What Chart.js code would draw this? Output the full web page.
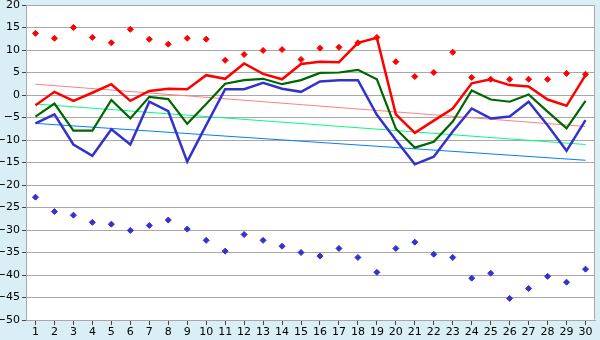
<!DOCTYPE html>
<html>
<head>
<meta charset="utf-8">
<script src="https://cdn.jsdelivr.net/npm/chart.js@4"></script>
<style>
html,body{margin:0;padding:0;background:#d9eef5;}
#wrap{width:600px;height:340px;position:relative;}
</style>
</head>
<body>
<div id="wrap"><canvas id="c" width="600" height="340"></canvas></div>
<script>
const days = ['1','2','3','4','5','6','7','8','9','10','11','12','13','14','15','16','17','18','19','20','21','22','23','24','25','26','27','28','29','30'];
const absMax = [13.7,12.6,15.0,12.8,11.6,14.6,12.4,11.3,12.6,12.4,7.7,9.0,9.9,10.1,7.9,10.4,10.6,11.6,12.8,7.4,4.1,5.0,9.5,3.9,3.5,3.5,3.5,3.5,4.8,4.6];
const avgMax = [-2.3,0.7,-1.3,0.5,2.4,-1.3,0.9,1.4,1.3,4.4,3.6,7.0,4.7,3.5,6.9,7.4,7.3,11.6,12.7,-4.3,-8.4,-5.7,-3.0,2.6,3.5,2.2,1.9,-1.0,-2.4,4.4];
const avgMean = [-4.8,-1.9,-7.9,-7.9,-1.1,-5.2,-0.4,-0.9,-6.4,-2.0,2.5,3.3,3.6,2.4,3.3,4.9,5.0,5.6,3.5,-7.5,-11.7,-10.4,-5.9,1.0,-1.0,-1.5,0.1,-3.7,-7.4,-1.3];
const avgMin = [-6.3,-4.3,-11.0,-13.5,-7.6,-11.0,-1.5,-3.6,-14.8,-6.7,1.3,1.3,2.7,1.4,0.7,3.0,3.3,3.3,-4.4,-10.0,-15.4,-13.7,-8.1,-3.0,-5.2,-4.8,-1.5,-6.7,-12.4,-5.6];
const absMin = [-22.7,-25.9,-26.7,-28.3,-28.7,-30.1,-29.0,-27.8,-29.8,-32.3,-34.7,-31.0,-32.3,-33.6,-35.0,-35.8,-34.1,-36.1,-39.4,-34.1,-32.7,-35.4,-36.1,-40.7,-39.6,-45.2,-43.0,-40.3,-41.6,-38.7];
const trendMax = [2.4,-7.0];
const trendMean = [-2.0,-11.0];
const trendMin = [-6.3,-14.5];
const yTicks = [20,15,10,5,0,-5,-10,-15,-20,-25,-30,-35,-40,-45,-50];

function trend(v){ return [{x:days[0],y:v[0]},{x:days[days.length-1],y:v[1]}]; }

const plotBg = {
  id:'plotBg',
  beforeDraw(chart){
    const {ctx,chartArea:a}=chart;
    ctx.save(); ctx.fillStyle='#ffffff';
    ctx.fillRect(a.left,a.top,a.right-a.left,a.bottom-a.top);
    ctx.restore();
  },
  afterDatasetsDraw(chart){
    const {ctx,chartArea:a}=chart;
    ctx.save(); ctx.strokeStyle='#a8a8a8'; ctx.lineWidth=1;
    ctx.beginPath();
    ctx.moveTo(a.left+0.5,a.top+0.5); ctx.lineTo(a.right-0.5,a.top+0.5); ctx.lineTo(a.right-0.5,a.bottom-0.5);
    ctx.stroke(); ctx.restore();
  }
};

new Chart(document.getElementById('c'),{
  type:'line',
  data:{
    labels:days,
    datasets:[
      {data:trend(trendMax),borderColor:'#ff8080',borderWidth:1,pointRadius:0,order:10},
      {data:trend(trendMean),borderColor:'#00ff80',borderWidth:1,pointRadius:0,order:10},
      {data:trend(trendMin),borderColor:'#0080ff',borderWidth:1,pointRadius:0,order:10},
      {data:avgMin,borderColor:'#3333cc',borderWidth:2.5,pointRadius:0,order:3},
      {data:avgMean,borderColor:'#006600',borderWidth:2.2,pointRadius:0,order:2},
      {data:avgMax,borderColor:'#ff0000',borderWidth:2.5,pointRadius:0,order:1},
      {data:absMax,showLine:false,pointStyle:'rectRot',pointRadius:3,backgroundColor:'#ff0000',borderColor:'#ff0000',borderWidth:1,order:0},
      {data:absMin,showLine:false,pointStyle:'rectRot',pointRadius:3,backgroundColor:'#3333cc',borderColor:'#3333cc',borderWidth:1,order:0}
    ]
  },
  options:{
    responsive:false,
    animation:false,
    devicePixelRatio:1,
    elements:{line:{tension:0}},
    layout:{padding:{top:5,right:5,left:0,bottom:0}},
    plugins:{legend:{display:false},tooltip:{enabled:false}},
    scales:{
      x:{
        type:'category',
        offset:true,
        grid:{display:true,drawOnChartArea:false,color:'#444',tickLength:5,offset:false},
        border:{display:true,color:'#a8a8a8'},
        ticks:{color:'#000',font:{family:'DejaVu Sans',size:11},padding:1,maxRotation:0,autoSkip:false},
        afterFit(s){s.height=20;}
      },
      y:{
        min:-50,max:20,
        afterBuildTicks(s){s.ticks=yTicks.map(v=>({value:v}));},
        grid:{color:'#a8a8a8',tickLength:4,tickColor:'#444'},
        border:{display:true,color:'#a8a8a8'},
        ticks:{color:'#000',font:{family:'DejaVu Sans',size:11},padding:2,callback:v=>String(v).replace('-','\u2212')},
        afterFit(s){s.width=26;s.paddingTop=0;s.paddingBottom=0;}
      }
    }
  },
  plugins:[plotBg]
});
</script>
</body>
</html>
